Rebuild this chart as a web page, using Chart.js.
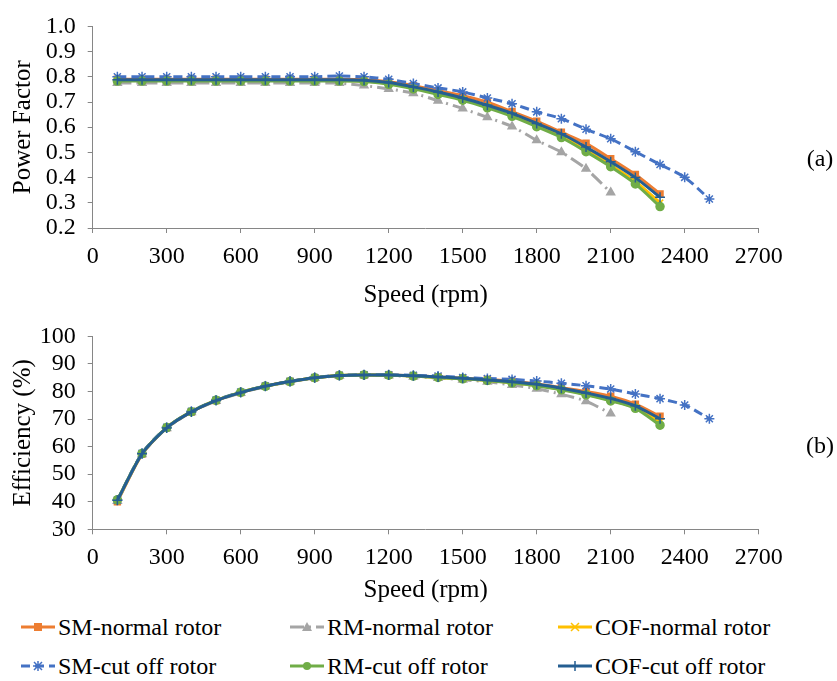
<!DOCTYPE html>
<html>
<head>
<meta charset="utf-8">
<script src="https://cdn.jsdelivr.net/npm/chart.js@4.4.1/dist/chart.umd.min.js"></script>
<style>
  html, body { margin:0; padding:0; background:#fff; }
  body { width:837px; height:681px; position:relative; overflow:hidden; font-family:'Liberation Serif','Times New Roman',serif; }
  canvas { position:absolute; left:0; }
  .tag { position:absolute; font-size:24px; color:#000; transform:translate(-50%,-50%); }
  .leg { position:absolute; font-size:24px; color:#000; display:flex; align-items:center; white-space:nowrap; }
  .leg svg { margin-right:3px; }
</style>
</head>
<body>
<canvas id="pf" width="837" height="310" style="top:0px"></canvas>
<canvas id="eff" width="837" height="300" style="top:310px"></canvas>
<div class="tag" style="left:820px;top:158px">(a)</div>
<div class="tag" style="left:820px;top:445px">(b)</div>
<div id="legend"></div>
<script>
// ---------- DATA ----------
const speeds2500 = [100,200,300,400,500,600,700,800,900,1000,1100,1200,1300,1400,1500,1600,1700,1800,1900,2000,2100,2200,2300,2400,2500];
const speeds2300 = [100,200,300,400,500,600,700,800,900,1000,1100,1200,1300,1400,1500,1600,1700,1800,1900,2000,2100,2200,2300];
const speeds2100 = [100,200,300,400,500,600,700,800,900,1000,1100,1200,1300,1400,1500,1600,1700,1800,1900,2000,2100];

const seriesNames = ["SM-normal rotor","RM-normal rotor","COF-normal rotor","SM-cut off rotor","RM-cut off rotor","COF-cut off rotor"];

// Power factor (a)
const pfSMNormal  = [0.79,0.79,0.79,0.79,0.79,0.79,0.79,0.79,0.79,0.79,0.788,0.78,0.765,0.745,0.725,0.699,0.662,0.624,0.58,0.536,0.475,0.412,0.335];
const pfRMNormal  = [0.775,0.775,0.775,0.775,0.775,0.775,0.775,0.775,0.775,0.775,0.765,0.752,0.735,0.705,0.674,0.639,0.603,0.548,0.501,0.435,0.341];
const pfCOFNormal = [0.785,0.785,0.785,0.785,0.785,0.785,0.785,0.785,0.785,0.785,0.783,0.773,0.756,0.735,0.712,0.682,0.648,0.607,0.565,0.51,0.45,0.385,0.30];
const pfSMCut     = [0.80,0.80,0.80,0.80,0.80,0.80,0.80,0.80,0.80,0.803,0.80,0.79,0.773,0.756,0.74,0.716,0.693,0.661,0.634,0.592,0.554,0.503,0.452,0.401,0.315];
const pfRMCut     = [0.783,0.783,0.783,0.783,0.783,0.783,0.783,0.783,0.783,0.783,0.781,0.77,0.752,0.73,0.707,0.677,0.643,0.602,0.559,0.503,0.443,0.375,0.285];
const pfCOFCut    = [0.788,0.788,0.788,0.788,0.788,0.788,0.788,0.788,0.788,0.788,0.786,0.777,0.76,0.74,0.716,0.687,0.655,0.615,0.574,0.521,0.463,0.40,0.322];

// Efficiency (b)
const effSMNormal  = [40.0,57.3,66.8,72.6,76.7,79.6,81.9,83.6,85.0,85.8,86.0,86.0,85.7,85.3,84.8,84.4,83.7,82.7,81.4,80.0,78.3,75.4,71.0];
const effRMNormal  = [40.3,57.2,66.7,72.5,76.6,79.5,81.8,83.5,84.9,85.7,85.9,85.8,85.4,84.9,84.3,83.5,82.4,81.0,79.0,76.5,72.0];
const effCOFNormal = [40.4,57.4,66.9,72.7,76.8,79.7,81.9,83.6,85.0,85.8,86.0,85.9,85.6,85.1,84.6,84.0,83.2,82.2,80.8,79.0,76.8,74.2,69.0];
const effSMCut     = [40.6,57.6,67.0,72.8,76.9,79.8,82.0,83.7,85.1,85.9,86.1,86.1,85.9,85.6,85.1,84.7,84.4,83.8,83.0,82.1,80.9,79.1,77.4,75.1,70.1];
const effRMCut     = [40.7,57.5,66.9,72.7,76.8,79.7,81.9,83.6,85.0,85.8,86.0,85.9,85.6,85.1,84.6,84.0,83.1,82.1,80.6,78.8,76.6,73.9,67.8];
const effCOFCut    = [40.5,57.4,66.8,72.6,76.7,79.6,81.9,83.6,85.0,85.8,86.0,86.0,85.7,85.3,84.8,84.2,83.5,82.6,81.2,79.5,77.5,74.8,70.1];

const xTicks = [0,300,600,900,1200,1500,1800,2100,2400,2700];
const pfTicks = [0.2,0.3,0.4,0.5,0.6,0.7,0.8,0.9,1.0];
const effTicks = [30,40,50,60,70,80,90,100];

// ---------- STYLES ----------
const styles = [
  {color:'#ED7D31', dash:[], point:'rect', pr:4.2, fill:'#ED7D31'},
  {color:'#A5A5A5', dash:[14,5,2,5], point:'triangle', pr:4.5, fill:'#A5A5A5'},
  {color:'#FFC000', dash:[], point:'crossRot', pr:4.5, fill:'#FFC000'},
  {color:'#4472C4', dash:[9,5], point:'star', pr:5, fill:'#4472C4'},
  {color:'#70AD47', dash:[], point:'circle', pr:4, fill:'#70AD47'},
  {color:'#255E91', dash:[], point:'cross', pr:5, fill:'#255E91'}
];

Chart.defaults.font.family = "'Liberation Serif','Times New Roman',serif";
Chart.defaults.color = '#000';

function makeDatasets(list) {
  return list.map((s, i) => ({
    label: seriesNames[i],
    data: s[0].map((x, k) => ({x: x, y: s[1][k]})),
    borderColor: styles[i].color,
    backgroundColor: styles[i].fill,
    borderWidth: 3,
    borderDash: styles[i].dash,
    pointStyle: styles[i].point,
    pointRadius: styles[i].pr,
    pointBorderWidth: 1.5,
    pointBorderColor: styles[i].color,
    pointBackgroundColor: styles[i].fill,
    tension: 0.25,
    order: 5 - i
  }));
}

function makeChart(id, datasets, yMin, yMax, yTickList, yTitle, fmt, padTop, xHeight, xTitlePadBottom) {
  return new Chart(document.getElementById(id), {
    type: 'line',
    data: { datasets: datasets },
    options: {
      responsive: false, animation: false, devicePixelRatio: 1,
      layout: { padding: { left: 0, right: 78.3, top: padTop, bottom: 0 } },
      plugins: { legend: { display: false }, tooltip: { enabled: false } },
      scales: {
        x: {
          type: 'linear', min: 0, max: 2700,
          afterBuildTicks: (sc) => { sc.ticks = xTicks.map(v => ({value: v})); },
          ticks: { font: { size: 24 }, padding: 9, maxRotation: 0, autoSkip: false, callback: (v) => String(v) },
          grid: { display: true, drawOnChartArea: false, drawTicks: true, tickLength: 5, color: '#868686' },
          border: { display: true, color: '#868686', width: 1 },
          title: { display: true, text: 'Speed (rpm)', font: { size: 25 }, padding: { top: 0, bottom: xTitlePadBottom } },
          afterFit: (sc) => { sc.height = xHeight; }
        },
        y: {
          type: 'linear', min: yMin, max: yMax,
          afterBuildTicks: (sc) => { sc.ticks = yTickList.map(v => ({value: v})); },
          ticks: { font: { size: 24 }, padding: 12, callback: fmt, autoSkip: false },
          grid: { display: true, drawOnChartArea: false, drawTicks: true, tickLength: 5, color: '#868686' },
          border: { display: true, color: '#868686', width: 1 },
          title: { display: true, text: yTitle, font: { size: 25 }, padding: { top: 8, bottom: 0 } },
          afterFit: (sc) => { sc.width = 92.7; }
        }
      }
    }
  });
}

makeChart('pf', makeDatasets([
  [speeds2300, pfSMNormal], [speeds2100, pfRMNormal], [speeds2300, pfCOFNormal],
  [speeds2500, pfSMCut], [speeds2300, pfRMCut], [speeds2300, pfCOFCut]
]), 0.2, 1.0, pfTicks, 'Power Factor', (v) => Number(v).toFixed(1), 17, 82, 0);

makeChart('eff', makeDatasets([
  [speeds2300, effSMNormal], [speeds2100, effRMNormal], [speeds2300, effCOFNormal],
  [speeds2500, effSMCut], [speeds2300, effRMCut], [speeds2300, effCOFCut]
]), 30, 100, effTicks, 'Efficiency (%)', (v) => String(v), 20, 80.7, 5);

// ---------- LEGEND (HTML) ----------
function markerSVG(i) {
  const s = styles[i], c = s.color;
  const cx = 17, cy = 6;
  switch (s.point) {
    case 'rect': return `<rect x="${cx-4}" y="${cy-4}" width="8" height="8" fill="${c}"/>`;
    case 'triangle': return `<polygon points="${cx},${cy-5} ${cx+5},${cy+4} ${cx-5},${cy+4}" fill="${c}"/>`;
    case 'crossRot': return `<path d="M${cx-4} ${cy-4}L${cx+4} ${cy+4}M${cx+4} ${cy-4}L${cx-4} ${cy+4}" stroke="${c}" stroke-width="1.5"/>`;
    case 'star': return `<path d="M${cx-4} ${cy-4}L${cx+4} ${cy+4}M${cx+4} ${cy-4}L${cx-4} ${cy+4}M${cx} ${cy-5}L${cx} ${cy+5}M${cx-5} ${cy}L${cx+5} ${cy}" stroke="${c}" stroke-width="1.5"/>`;
    case 'circle': return `<circle cx="${cx}" cy="${cy}" r="4" fill="${c}"/>`;
    case 'cross': return `<path d="M${cx} ${cy-5}L${cx} ${cy+5}M${cx-5} ${cy}L${cx+5} ${cy}" stroke="${c}" stroke-width="1.5"/>`;
  }
  return '';
}
const legendPos = [[21,627],[290,627],[558,627],[21,666],[290,666],[558,666]];
const legendEl = document.getElementById('legend');
seriesNames.forEach((name, i) => {
  const d = document.createElement('div');
  d.className = 'leg';
  d.style.left = legendPos[i][0] + 'px';
  d.style.top = (legendPos[i][1] - 15) + 'px';
  d.style.height = '30px';
  const dash = styles[i].dash.length ? `stroke-dasharray="${styles[i].dash.join(' ')}"` : '';
  d.innerHTML = `<svg width="34" height="12"><line x1="0" y1="6" x2="34" y2="6" stroke="${styles[i].color}" stroke-width="3" ${dash}/>${markerSVG(i)}</svg><span>${name}</span>`;
  legendEl.appendChild(d);
});
</script>
</body>
</html>
